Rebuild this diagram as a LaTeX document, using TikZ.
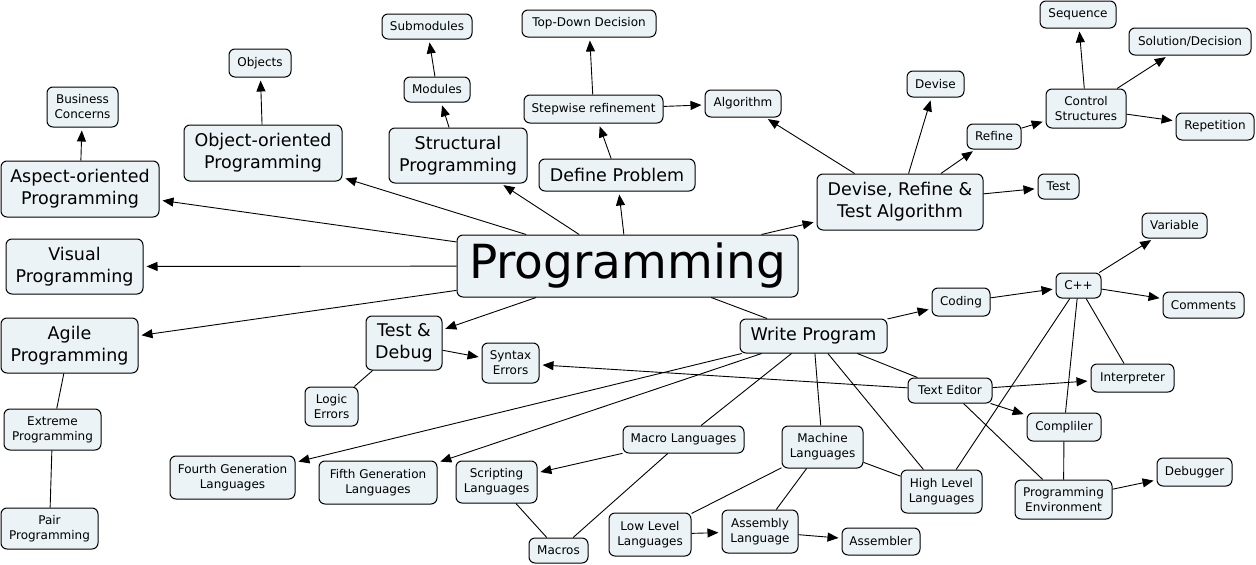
\documentclass[tikz,border=0pt]{standalone}
\usepackage{fontspec}
\setmainfont{DejaVu Sans}
\usetikzlibrary{arrows.meta}
\definecolor{nodefill}{RGB}{235,243,246}
\tikzset{
  box/.style={draw=black, rounded corners=6pt, fill=nodefill, line width=1pt, align=center, inner sep=0pt, text=black},
  wh/.style 2 args={minimum width=#1pt, minimum height=#2pt},
  sm/.style={box, font=\fontsize{12}{15}\selectfont},
  lg/.style={box, font=\fontsize{17.5}{22}\selectfont},
  arr/.style={-{Triangle[length=11pt,width=9pt]}, line width=0.9pt, shorten >=3pt},
  ln/.style={line width=0.9pt}
}
\begin{document}
\begin{tikzpicture}[x=1pt,y=-1pt]
\useasboundingbox[fill=white] (0,0) rectangle (1256,565);
% top-left
\node[sm, wh={71}{40}] (bus) at (82.5,107) {Business\\Concerns};
\node[sm, wh={62}{28}] (obj) at (260,63) {Objects};
\node[lg, wh={158}{56}] (oop) at (263,153) {Object-oriented\\Programming};
\node[lg, wh={158}{56}] (asp) at (80,189) {Aspect-oriented\\Programming};
\node[sm, wh={90}{25}] (submod) at (427,26.5) {Submodules};
\node[sm, wh={66}{25}] (mod) at (437,89.5) {Modules};
\node[lg, wh={138}{55}] (struct) at (458,155.5) {Structural\\Programming};
\node[sm, wh={134}{27}] (topdown) at (589,23.5) {Top-Down Decision};
\node[sm, wh={139}{28}] (stepwise) at (593.5,109) {Stepwise refinement};
\node[sm, wh={76}{27}] (algo) at (743,103.5) {Algorithm};
\node[lg, wh={156}{32}] (define) at (617,175) {Define Problem};
% top-right
\node[sm, wh={57}{26}] (devise) at (935.5,84) {Devise};
\node[sm, wh={76}{27}] (seq) at (1078,14.5) {Sequence};
\node[sm, wh={122}{27}] (soldec) at (1190,41.5) {Solution/Decision};
\node[sm, wh={80}{39}] (ctrl) at (1086,108.5) {Control\\Structures};
\node[sm, wh={78}{27}] (rep) at (1215,126.5) {Repetition};
\node[sm, wh={54}{25}] (refine) at (994,136.5) {Refine};
\node[lg, wh={166}{56}] (drt) at (900,202) {Devise, Refine \&\\Test Algorithm};
\node[sm, wh={41}{25}] (test) at (1058.5,186.5) {Test};
\node[sm, wh={65}{25}] (var) at (1174.5,225.5) {Variable};
% centre
\node[box, wh={341}{62}, font=\fontsize{47}{50}\selectfont] (prog) at (627.5,266) {Programming};
% left
\node[lg, wh={137}{55}] (visual) at (74.5,266.5) {Visual\\Programming};
\node[lg, wh={137}{55}] (agile) at (69.5,345.5) {Agile\\Programming};
\node[sm, wh={97}{41}] (extreme) at (52.5,429.5) {Extreme\\Programming};
\node[sm, wh={97}{41}] (pair) at (49.5,528.5) {Pair\\Programming};
\node[lg, wh={76}{54}] (testdbg) at (404,343) {Test \&\\Debug};
\node[sm, wh={53}{39}] (logic) at (331.5,406.5) {Logic\\Errors};
\node[sm, wh={125}{43}] (fourth) at (232.5,477.5) {Fourth Generation\\Languages};
\node[sm, wh={118}{43}] (fifth) at (378,482.5) {Fifth Generation\\Languages};
% bottom middle
\node[sm, wh={57}{40}] (syntax) at (510.5,363) {Syntax\\Errors};
\node[lg, wh={147}{34}] (write) at (813.5,336) {Write Program};
\node[sm, wh={121}{27}] (macrol) at (683.5,439.5) {Macro Languages};
\node[sm, wh={81}{42}] (machine) at (822.5,447) {Machine\\Languages};
\node[sm, wh={81}{42}] (script) at (496.5,482) {Scripting\\Languages};
\node[sm, wh={82}{43}] (low) at (650,534.5) {Low Level\\Languages};
\node[sm, wh={76}{43}] (assembly) at (760,531.5) {Assembly\\Language};
\node[sm, wh={59}{25}] (macros) at (558.5,550.5) {Macros};
\node[sm, wh={78}{27}] (assembler) at (881,541.5) {Assembler};
% bottom right
\node[sm, wh={58}{28}] (coding) at (961,302) {Coding};
\node[sm, wh={45}{25}] (cpp) at (1078.5,285.5) {C++};
\node[sm, wh={81}{26}] (comments) at (1203.5,305) {Comments};
\node[sm, wh={83}{28}] (interp) at (1132.5,378) {Interpreter};
\node[sm, wh={84}{25}] (texted) at (950,390.5) {Text Editor};
\node[sm, wh={74}{28}] (compiler) at (1064,427) {Compliler};
\node[sm, wh={81}{43}] (high) at (941.5,491.5) {High Level\\Languages};
\node[sm, wh={97}{39}] (progenv) at (1063.5,499.5) {Programming\\Environment};
\node[sm, wh={75}{28}] (debugger) at (1194.5,472) {Debugger};

% connectors from Programming
\draw[arr] (prog) -- (asp);
\draw[arr] (prog) -- (oop);
\draw[arr] (prog) -- (struct);
\draw[arr] (prog) -- (define);
\draw[arr] (prog) -- (drt);
\draw[arr] (prog) -- (visual);
\draw[arr] (prog) -- (agile);
\draw[arr] (prog) -- (testdbg);
\draw[ln] (prog) -- (write);
% upper branches
\draw[arr] (asp) -- (bus);
\draw[arr] (oop) -- (obj);
\draw[arr] (struct) -- (mod);
\draw[arr] (mod) -- (submod);
\draw[arr] (define) -- (stepwise);
\draw[arr] (stepwise) -- (topdown);
\draw[arr] (stepwise) -- (algo);
\draw[arr] (drt) -- (algo);
\draw[arr] (drt) -- (devise);
\draw[arr] (drt) -- (refine);
\draw[arr] (drt) -- (test);
\draw[arr] (refine) -- (ctrl);
\draw[arr] (ctrl) -- (seq);
\draw[arr] (ctrl) -- (soldec);
\draw[arr] (ctrl) -- (rep);
% left branches
\draw[ln] (agile) -- (extreme);
\draw[ln] (extreme) -- (pair);
\draw[ln] (testdbg) -- (logic);
\draw[arr] (testdbg) -- (syntax);
% write program
\draw[arr] (write) -- (coding);
\draw[arr] (coding) -- (cpp);
\draw[arr] (cpp) -- (var);
\draw[arr] (cpp) -- (comments);
\draw[ln] (cpp) -- (interp);
\draw[ln] (cpp) -- (compiler);
\draw[ln] (cpp) -- (high);
\draw[ln] (write) -- (texted);
\draw[arr] (texted) -- (syntax);
\draw[arr] (texted) -- (interp);
\draw[arr] (texted) -- (compiler);
\draw[ln] (texted) -- (progenv);
\draw[ln] (compiler) -- (progenv);
\draw[arr] (progenv) -- (debugger);
\draw[arr] (write) -- (fourth);
\draw[arr] (write) -- (fifth);
\draw[ln] (write) -- (macrol);
\draw[ln] (write) -- (machine);
\draw[ln] (write) -- (high);
\draw[arr] (macrol) -- (script);
\draw[ln] (macrol) -- (macros);
\draw[ln] (script) -- (macros);
\draw[ln] (machine) -- (low);
\draw[ln] (machine) -- (assembly);
\draw[ln] (machine) -- (high);
\draw[arr] (low) -- (assembly);
\draw[arr] (assembly) -- (assembler);
\end{tikzpicture}
\end{document}
